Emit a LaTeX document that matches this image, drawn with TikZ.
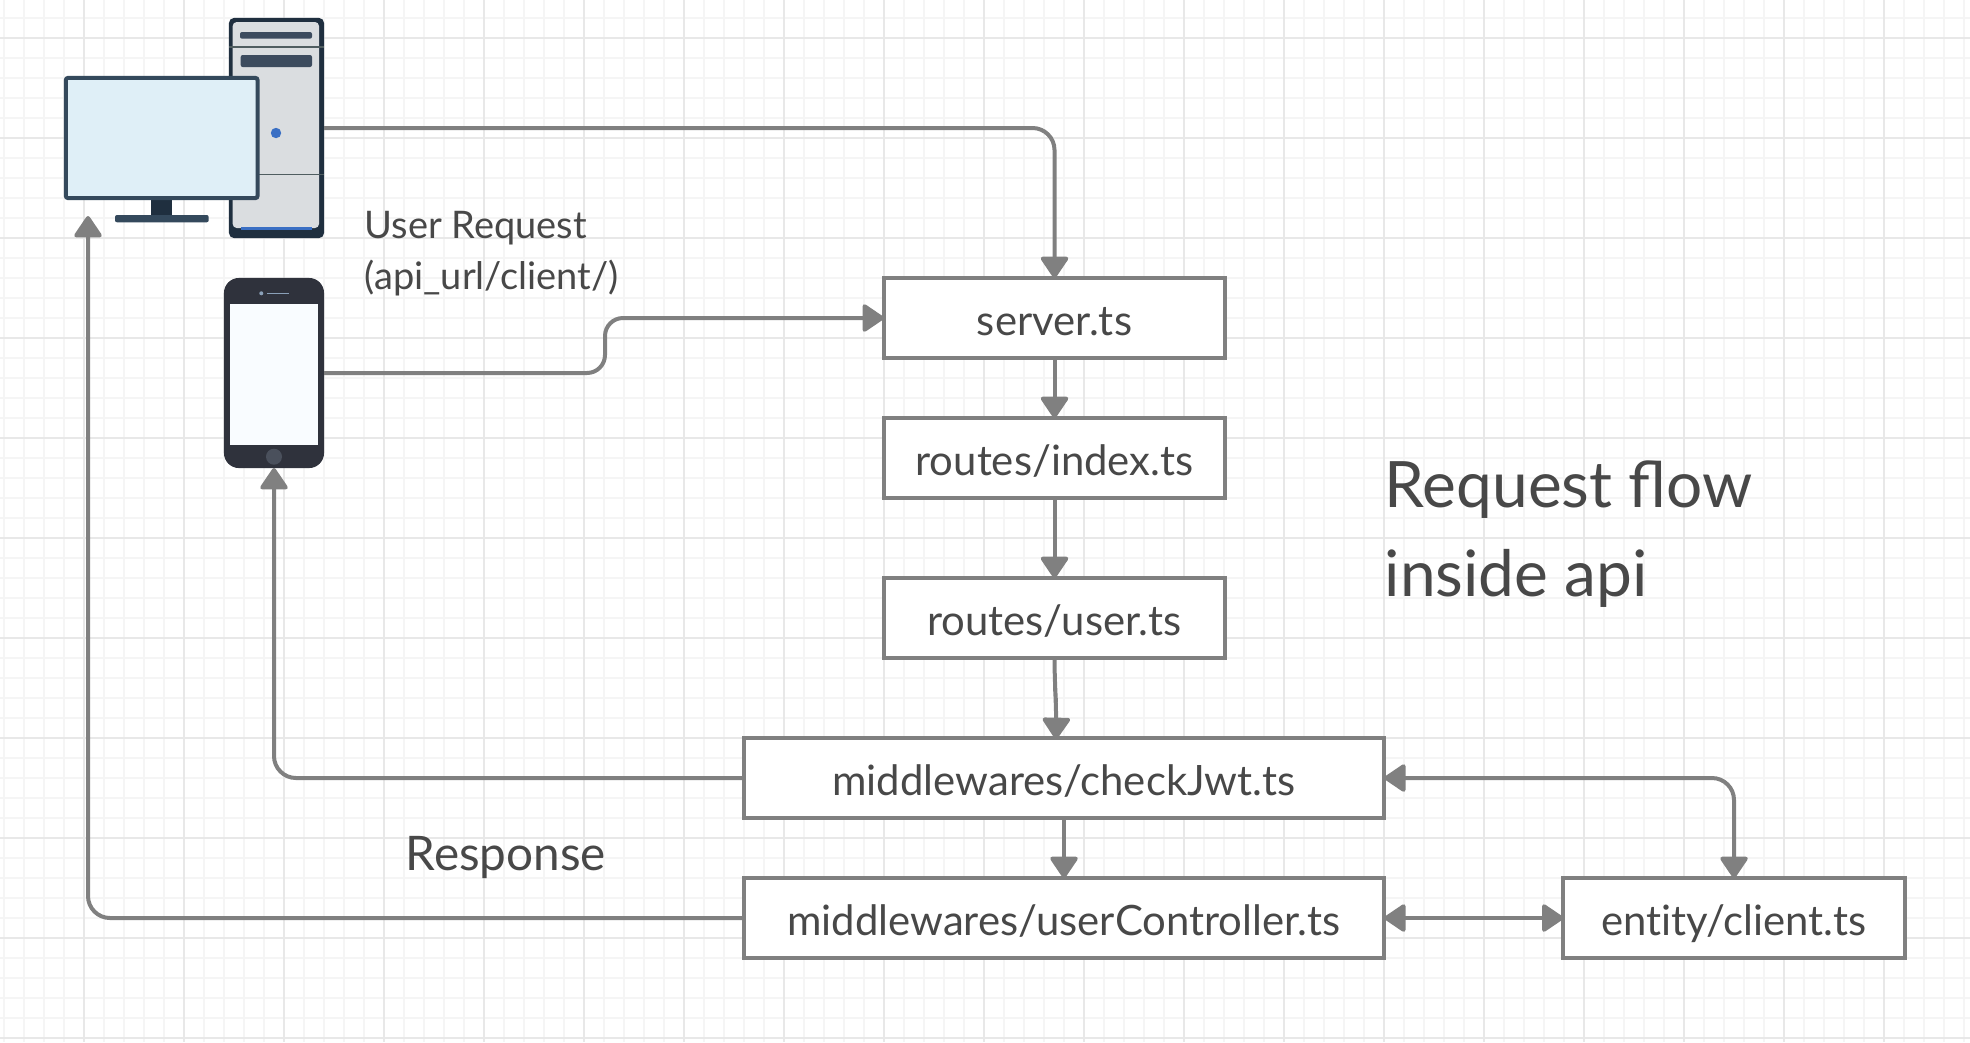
\documentclass[tikz,border=0pt]{standalone}
\usepackage{fontspec}
\setmainfont{Lato}
\usetikzlibrary{arrows.meta}

\definecolor{linegray}{HTML}{808080}
\definecolor{textgray}{HTML}{484848}
\definecolor{towerdark}{HTML}{1F2F3F}
\definecolor{towerlight}{HTML}{DADDE0}
\definecolor{towerbar}{HTML}{3C4B5E}
\definecolor{towerline}{HTML}{4F5D60}
\definecolor{monitorblue}{HTML}{34495C}
\definecolor{screenblue}{HTML}{DFEFF7}
\definecolor{ledblue}{HTML}{3A6FC4}
\definecolor{phonedark}{HTML}{2F323C}
\definecolor{phonescreen}{HTML}{F9FCFF}
\definecolor{phonebutton}{HTML}{4A505C}
\definecolor{phonespeaker}{HTML}{8AA0B8}

\tikzset{
  flowtip/.tip={Triangle[length=0.23cm,width=0.3cm,round]},
  gridminor/.style={draw=black!4,line width=0.016cm},
  gridmajor/.style={draw=black!9,line width=0.018cm},
  flowline/.style={draw=linegray,line width=0.04cm,rounded corners=0.22cm,-flowtip},
  bothways/.style={flowline,flowtip-flowtip},
  filelabel/.style={text=textgray,font=\fontsize{11.9pt}{14pt}\selectfont\addfontfeatures{Ligatures=NoCommon},text height=0.45cm,text depth=0.1cm},
}

\begin{document}
\begin{tikzpicture}[x=0.01cm,y=-0.01cm]
    \useasboundingbox (0,0) rectangle (1970,1042);
    \fill[white] (0,0) rectangle (1970,1042);
    % background grid
    \foreach \gx in {4,24,...,1964} \draw[gridminor] (\gx,0) -- (\gx,1042);
    \foreach \gy in {17.7,37.7,...,1037.7} \draw[gridminor] (0,\gy) -- (1970,\gy);
    \foreach \gx in {84,184,...,1984} \draw[gridmajor] (\gx,0) -- (\gx,1042);
    \foreach \gy in {37.7,137.7,...,1037.7} \draw[gridmajor] (0,\gy) -- (1970,\gy);

    % tower
    \node (tower) at (276.5,128) [fill=towerdark,rounded corners=0.05cm,inner sep=0,outer sep=0,minimum width=0.95cm,minimum height=2.2cm] {};
    \fill[towerlight,rounded corners=0.04cm] (232.7,22) rectangle (319,228);
    \fill[towerbar,rounded corners=0.02cm] (240,32) rectangle (312,38.7);
    \fill[towerbar,rounded corners=0.02cm] (240.7,55) rectangle (312,67);
    \draw[towerline,line width=0.013cm] (229,47) -- (324,47);
    \draw[towerline,line width=0.013cm] (229,174.7) -- (324,174.7);
    \fill[ledblue] (276,133) circle (0.052cm);
    \fill[ledblue] (241,227) rectangle (312,230);

    % monitor
    \fill[towerdark] (151,198) rectangle (172.3,216);
    \fill[monitorblue,rounded corners=0.02cm] (115,215) rectangle (208.7,222.3);
    \node (monitor) at (161.7,138) [draw=monitorblue,fill=screenblue,line width=0.04cm,rounded corners=0.02cm,inner sep=0,outer sep=0,minimum width=1.915cm,minimum height=1.2cm] {};
    \coordinate (desktop) at (88,216);

    % phone
    \node (phone) at (274,373) [fill=phonedark,rounded corners=0.15cm,inner sep=0,outer sep=0,minimum width=1cm,minimum height=1.9cm] {};
    \fill[phonescreen] (230.3,304.3) rectangle (317.7,445.3);
    \fill[phonebutton] (274,456.7) circle (0.08cm);
    \fill[phonespeaker] (261.3,293.3) circle (0.02cm);
    \draw[phonespeaker,line width=0.01cm] (267.3,293.3) -- (289,293.3);

    \begin{scope}[every node/.style={rectangle,draw=linegray,fill=white,line width=0.04cm,inner sep=0,outer sep=0,minimum height=0.8cm,filelabel}]
        \node[minimum width=3.41cm] (server) at (1054.5,318) {server.ts};
        \node[minimum width=3.41cm] (index) at (1054.5,458) {routes/index.ts};
        \node[minimum width=3.41cm] (user) at (1054.5,618) {routes/user.ts};
        \node[minimum width=6.4cm] (check) at (1064,778) {middlewares/checkJwt.ts};
        \node[minimum width=6.4cm] (control) at (1064,918) {middlewares/userController.ts};
        \node[minimum width=3.41cm] (client) at (1734,918) {entity/client.ts};
    \end{scope}

    \begin{scope}[every node/.style={text=textgray,inner sep=0,anchor=west,align=left}]
        \node[font=\fontsize{10.8pt}{14.5pt}\selectfont] (request) at (364,254) {User Request\\(api\_url/client/)};
        \node[font=\fontsize{13.55pt}{16pt}\selectfont] (response) at (405,857) {Response};
        \node[font=\fontsize{18.2pt}{25.3pt}\selectfont] (title) at (1384,534) {Request flow\\inside api};
    \end{scope}

    \coordinate (jog) at (605,318);
    \coordinate (checkin) at (1056,739);
    \begin{scope}[flowline]
        \draw (tower.east) -| (server.north);
        \draw[rounded corners=0.18cm] (phone.east) -| (jog) -- (server.west);
        \draw (server) -- (index);
        \draw (index) -- (user);
        \draw (user.south) -- ++(0,22) -- ++(2,30) -- (checkin);
        \draw (check) -- (control);
        \draw (check.west) -| (phone.south);
        \draw (control.west) -| (desktop);
    \end{scope}
    \draw[bothways] (check.east) -| (client.north);
    \draw[bothways] (control) -- (client);
\end{tikzpicture}
\end{document}
